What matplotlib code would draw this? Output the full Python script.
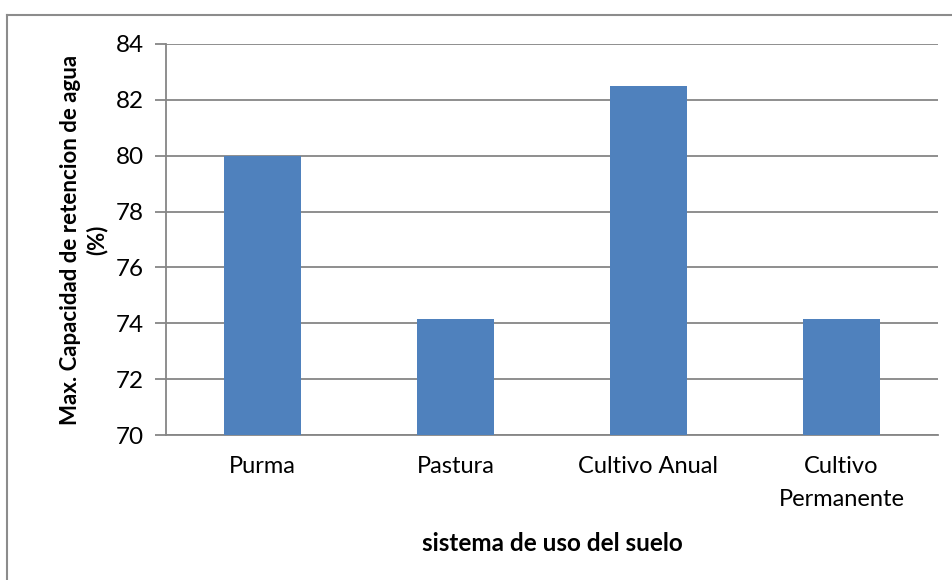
import matplotlib.pyplot as plt
from matplotlib.lines import Line2D
import numpy as np

plt.rcParams['font.family'] = ['Lato', 'DejaVu Sans']

categorias = ['Purma', 'Pastura', 'Cultivo Anual', 'Cultivo\nPermanente']
retencion = [80.0, 74.15, 82.5, 74.15]
yticks = [70, 72, 74, 76, 78, 80, 82, 84]

W, H = 953, 580
fig = plt.figure(figsize=(W / 100, H / 100), dpi=100)
ax = fig.add_axes([166 / W, 1 - 435 / H, (938 - 166) / W, (435 - 44) / H])

x = np.arange(len(categorias))
ax.bar(x, [v - 70 for v in retencion], bottom=70, width=0.4, color='#4F81BD', zorder=3)

ax.set_xlim(-0.5, len(categorias) - 0.5)
ax.set_ylim(70, 84)
ax.set_yticks(yticks)
ax.set_yticklabels([str(t) for t in yticks], fontsize=17.5)
ax.set_xticks(x)
ax.set_xticklabels(categorias, fontsize=17, linespacing=1.7)
ax.yaxis.grid(True, color='#868686', linewidth=1.3, zorder=0)

for s in ['top', 'right']:
    ax.spines[s].set_visible(False)
for s in ['left', 'bottom']:
    ax.spines[s].set_color('#868686')
    ax.spines[s].set_linewidth(1.3)
ax.tick_params(axis='y', length=8, width=1.3, color='#868686', pad=8)
ax.tick_params(axis='x', length=0, pad=15)

ax.set_ylabel('Max. Capacidad de retencion de agua\n(%)', fontsize=16,
              fontweight='bold', labelpad=6, linespacing=1.25)
ax.set_xlabel('sistema de uso del suelo', fontsize=17.5, fontweight='bold', labelpad=16)

# marco exterior del grafico
fig.add_artist(Line2D([7 / W, 7 / W], [0, 1 - 15 / H], color='#8c8c8c', linewidth=1.5))
fig.add_artist(Line2D([7 / W, 1], [1 - 15 / H, 1 - 15 / H], color='#8c8c8c', linewidth=1.5))

fig.savefig('out.png', dpi=100)
